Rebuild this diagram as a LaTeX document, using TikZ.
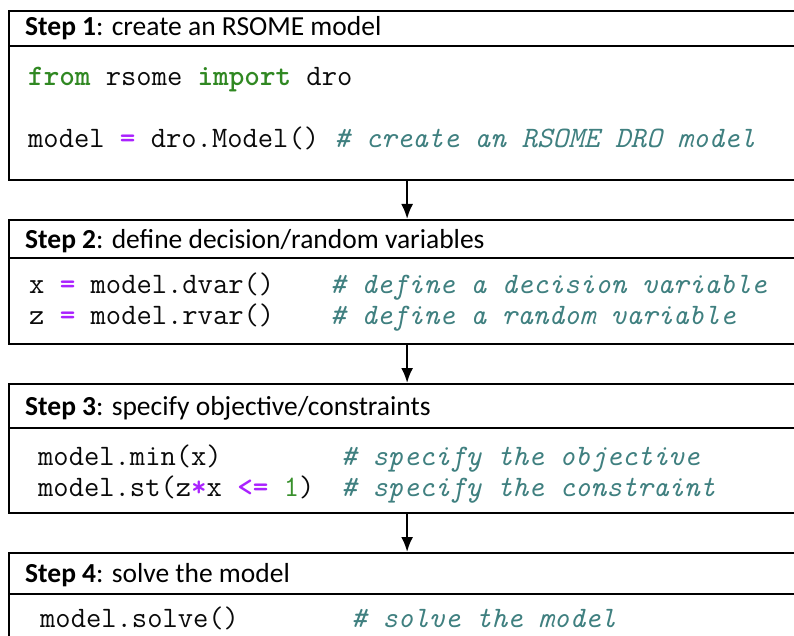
\documentclass[tikz,border=0pt]{standalone}
\usepackage{fontspec}
\usetikzlibrary{arrows.meta,calc}
\newfontfamily\hdrfont{Carlito}
\definecolor{kwgreen}{RGB}{48,136,34}
\definecolor{numgreen}{RGB}{56,144,44}
\definecolor{oppurple}{RGB}{170,34,255}
\definecolor{cmteal}{RGB}{64,128,128}
\definecolor{codeink}{RGB}{10,10,10}
% syntax colouring helpers
\newcommand\kw[1]{{\bfseries\color{kwgreen}#1}}
\newcommand\opr[1]{{\bfseries\color{oppurple}#1}}
\newcommand\num[1]{{\color{numgreen}#1}}
\newcommand\cmt[1]{{\itshape\color{cmteal}#1}}
\begin{document}
\begin{tikzpicture}[x=1pt,y=-1pt,
  stepbox/.style={draw=black, line width=2.2pt, minimum width=796pt, inner sep=0pt, anchor=north west},
  divider/.style={draw=black, line width=2.2pt},
  flow/.style={draw=black, line width=2.2pt, -{Latex[length=15pt,width=12pt]}},
  head/.style={anchor=base west, inner sep=0pt, font=\hdrfont\fontsize{27.5}{31}\selectfont},
  code/.style={anchor=base west, inner sep=0pt, text=codeink, font=\ttfamily\fontsize{29.7}{32}\selectfont}]
\useasboundingbox (0,0) rectangle (794,636);
\clip (0,0) rectangle (794,636);

% the four step boxes
\node[stepbox, minimum height=169pt] (box1) at (8,10) {};
\node[stepbox, minimum height=124pt] (box2) at (8,219) {};
\node[stepbox, minimum height=129pt] (box3) at (8,383) {};
\node[stepbox, minimum height=130pt] (box4) at (8,552) {};

% header dividers
\draw[divider] ($(box1.north west)+(0,36)$) -- ($(box1.north east)+(0,36)$);
\draw[divider] ($(box2.north west)+(0,39)$) -- ($(box2.north east)+(0,39)$);
\draw[divider] ($(box3.north west)+(0,45)$) -- ($(box3.north east)+(0,45)$);
\draw[divider] ($(box4.north west)+(0,42)$) -- ($(box4.north east)+(0,42)$);

% arrows between steps
\draw[flow] (box1.south) -- (box2.north);
\draw[flow] (box2.south) -- (box3.north);
\draw[flow] (box3.south) -- (box4.north);

% headers
\node[head] (h1) at (25,36)  {\textbf{Step 1}: create an RSOME model};
\node[head] (h2) at (25,248) {\textbf{Step 2}: define decision/random variables};
\node[head] (h3) at (25,415) {\textbf{Step 3}: specify objective/constraints};
\node[head] (h4) at (25,582) {\textbf{Step 4}: solve the model};

% step 1 code
\node[code] (c1a) at (28,86)  {\kw{from} rsome \kw{import} dro};
\node[code] (c1b) at (28,148) {model \opr{=} dro.Model() \cmt{\# create an RSOME DRO model}};

% step 2 code
\node[code] (c2a) at (29,293) {x \opr{=} model.dvar()};
\node[code] (m2a) at (330,293) {\cmt{\# define a decision variable}};
\node[code] (c2b) at (29,324) {z \opr{=} model.rvar()};
\node[code] (m2b) at (330,324) {\cmt{\# define a random variable}};

% step 3 code
\node[code] (c3a) at (38,465) {model.min(x)};
\node[code] (m3a) at (341,465) {\cmt{\# specify the objective}};
\node[code] (c3b) at (38,496) {model.st(z\opr{*}x \opr{<=} \num{1})};
\node[code] (m3b) at (341,496) {\cmt{\# specify the constraint}};

% step 4 code
\node[code] (c4a) at (40,627) {model.solve()};
\node[code] (m4a) at (351,627) {\cmt{\# solve the model}};
\end{tikzpicture}
\end{document}
